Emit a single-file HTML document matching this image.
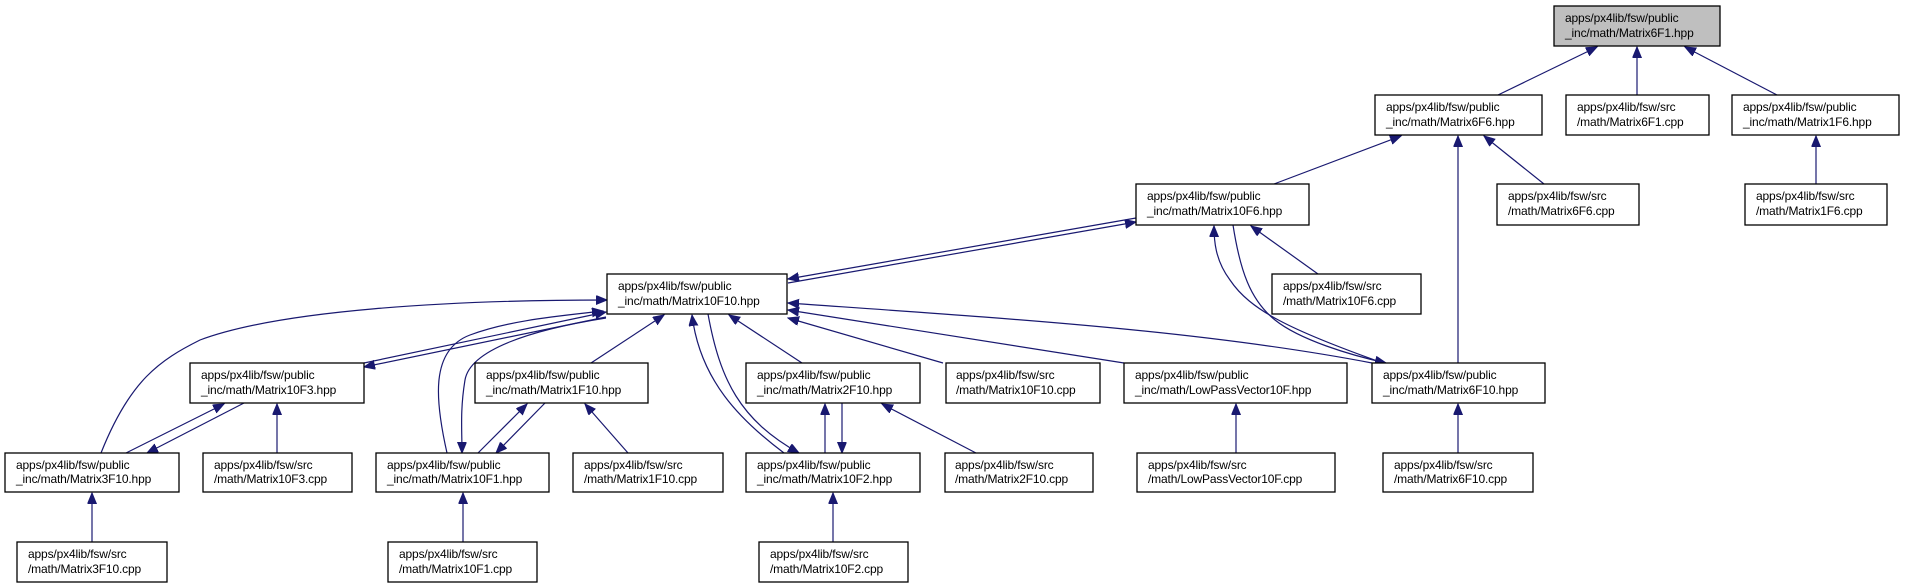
<!DOCTYPE html>
<html><head><meta charset="utf-8"><style>
html,body{margin:0;padding:0;background:#fff;}
svg{display:block;}
text{font-family:"Liberation Sans",sans-serif;font-size:12px;letter-spacing:-0.15px;fill:#000;}
.e{stroke:#191970;stroke-width:1.2;fill:none;marker-end:url(#a);}
.n{fill:#fff;stroke:#000;stroke-width:1.3;}
</style></head><body>
<svg width="1905" height="588" viewBox="0 0 1905 588" xmlns="http://www.w3.org/2000/svg">
<defs><marker id="a" markerUnits="userSpaceOnUse" markerWidth="12" markerHeight="10" refX="11" refY="4.5" orient="auto"><path d="M0,0 L11,4.5 L0,9 Z" fill="#191970" stroke="#191970"/></marker></defs>
<g>
<path class="e" d="M1498,95 L1597,47"/>
<path class="e" d="M1637,95 L1637,47"/>
<path class="e" d="M1777,95 L1685,47"/>
<path class="e" d="M1274,184 L1401,136"/>
<path class="e" d="M1544,184 L1484,136"/>
<path class="e" d="M1458,363 L1458,136"/>
<path class="e" d="M1816,184 L1816,136"/>
<path class="e" d="M1318,274 L1251,226"/>
<path class="e" d="M1383,363 C1290,330 1250,310 1230,280 C1215,260 1214,240 1214,226"/>
<path class="e" d="M1233,225 C1240,270 1250,300 1275,320 C1300,340 1350,355 1386,363"/>
<path class="e" d="M1136,218 L788,279"/>
<path class="e" d="M788,283 L1136,222"/>
<path class="e" d="M1372,363 C1200,330 1000,318 788,303"/>
<path class="e" d="M1124,363 L788,310"/>
<path class="e" d="M943,363 L788,318"/>
<path class="e" d="M802,363 L729,315"/>
<path class="e" d="M591,363 L664,315"/>
<path class="e" d="M784,453 C740,420 700,380 692,315"/>
<path class="e" d="M708,314 C720,380 740,420 799,453"/>
<path class="e" d="M364,363 L606,312"/>
<path class="e" d="M606,317 L364,367"/>
<path class="e" d="M447,453 C435,400 430,350 470,335 C510,320 560,316 603,311"/>
<path class="e" d="M606,318 C530,330 470,350 465,380 C460,410 462,430 462,453"/>
<path class="e" d="M101,453 C130,380 160,360 200,340 C280,310 450,300 607,300"/>
<path class="e" d="M126,453 L224,404"/>
<path class="e" d="M244,403 L147,453"/>
<path class="e" d="M277,453 L277,404"/>
<path class="e" d="M478,453 L527,404"/>
<path class="e" d="M545,403 L496,453"/>
<path class="e" d="M628,453 L585,404"/>
<path class="e" d="M825,453 L825,404"/>
<path class="e" d="M842,403 L842,453"/>
<path class="e" d="M976,453 L882,404"/>
<path class="e" d="M1236,453 L1236,404"/>
<path class="e" d="M1458,453 L1458,404"/>
<path class="e" d="M92,542 L92,493"/>
<path class="e" d="M463,542 L463,493"/>
<path class="e" d="M833,542 L833,493"/>
</g>
<g>
<rect x="1554" y="6" width="166" height="40" fill="#bfbfbf" stroke="#000" stroke-width="1.3"/>
<text x="1565" y="22">apps/px4lib/fsw/public</text><text x="1565" y="37">_inc/math/Matrix6F1.hpp</text>

<rect class="n" x="1375" y="95" width="167" height="40"/>
<text x="1386" y="111">apps/px4lib/fsw/public</text><text x="1386" y="126">_inc/math/Matrix6F6.hpp</text>
<rect class="n" x="1566" y="95" width="143" height="40"/>
<text x="1577" y="111">apps/px4lib/fsw/src</text><text x="1577" y="126">/math/Matrix6F1.cpp</text>
<rect class="n" x="1732" y="95" width="167" height="40"/>
<text x="1743" y="111">apps/px4lib/fsw/public</text><text x="1743" y="126">_inc/math/Matrix1F6.hpp</text>

<rect class="n" x="1136" y="184" width="173" height="41"/>
<text x="1147" y="200">apps/px4lib/fsw/public</text><text x="1147" y="215">_inc/math/Matrix10F6.hpp</text>
<rect class="n" x="1497" y="184" width="142" height="41"/>
<text x="1508" y="200">apps/px4lib/fsw/src</text><text x="1508" y="215">/math/Matrix6F6.cpp</text>
<rect class="n" x="1745" y="184" width="142" height="41"/>
<text x="1756" y="200">apps/px4lib/fsw/src</text><text x="1756" y="215">/math/Matrix1F6.cpp</text>

<rect class="n" x="607" y="274" width="180" height="40"/>
<text x="618" y="290">apps/px4lib/fsw/public</text><text x="618" y="305">_inc/math/Matrix10F10.hpp</text>
<rect class="n" x="1272" y="274" width="149" height="40"/>
<text x="1283" y="290">apps/px4lib/fsw/src</text><text x="1283" y="305">/math/Matrix10F6.cpp</text>

<rect class="n" x="190" y="363" width="174" height="40"/>
<text x="201" y="379">apps/px4lib/fsw/public</text><text x="201" y="394">_inc/math/Matrix10F3.hpp</text>
<rect class="n" x="475" y="363" width="173" height="40"/>
<text x="486" y="379">apps/px4lib/fsw/public</text><text x="486" y="394">_inc/math/Matrix1F10.hpp</text>
<rect class="n" x="746" y="363" width="174" height="40"/>
<text x="757" y="379">apps/px4lib/fsw/public</text><text x="757" y="394">_inc/math/Matrix2F10.hpp</text>
<rect class="n" x="946" y="363" width="154" height="40"/>
<text x="956" y="379">apps/px4lib/fsw/src</text><text x="956" y="394">/math/Matrix10F10.cpp</text>
<rect class="n" x="1124" y="363" width="223" height="40"/>
<text x="1135" y="379">apps/px4lib/fsw/public</text><text x="1135" y="394">_inc/math/LowPassVector10F.hpp</text>
<rect class="n" x="1372" y="363" width="173" height="40"/>
<text x="1383" y="379">apps/px4lib/fsw/public</text><text x="1383" y="394">_inc/math/Matrix6F10.hpp</text>

<rect class="n" x="5" y="453" width="174" height="39"/>
<text x="16" y="469">apps/px4lib/fsw/public</text><text x="16" y="483">_inc/math/Matrix3F10.hpp</text>
<rect class="n" x="203" y="453" width="149" height="39"/>
<text x="214" y="469">apps/px4lib/fsw/src</text><text x="214" y="483">/math/Matrix10F3.cpp</text>
<rect class="n" x="376" y="453" width="173" height="39"/>
<text x="387" y="469">apps/px4lib/fsw/public</text><text x="387" y="483">_inc/math/Matrix10F1.hpp</text>
<rect class="n" x="573" y="453" width="150" height="39"/>
<text x="584" y="469">apps/px4lib/fsw/src</text><text x="584" y="483">/math/Matrix1F10.cpp</text>
<rect class="n" x="746" y="453" width="174" height="39"/>
<text x="757" y="469">apps/px4lib/fsw/public</text><text x="757" y="483">_inc/math/Matrix10F2.hpp</text>
<rect class="n" x="945" y="453" width="148" height="39"/>
<text x="955" y="469">apps/px4lib/fsw/src</text><text x="955" y="483">/math/Matrix2F10.cpp</text>
<rect class="n" x="1137" y="453" width="198" height="39"/>
<text x="1148" y="469">apps/px4lib/fsw/src</text><text x="1148" y="483">/math/LowPassVector10F.cpp</text>
<rect class="n" x="1383" y="453" width="150" height="39"/>
<text x="1394" y="469">apps/px4lib/fsw/src</text><text x="1394" y="483">/math/Matrix6F10.cpp</text>

<rect class="n" x="17" y="542" width="150" height="40"/>
<text x="28" y="558">apps/px4lib/fsw/src</text><text x="28" y="573">/math/Matrix3F10.cpp</text>
<rect class="n" x="388" y="542" width="149" height="40"/>
<text x="399" y="558">apps/px4lib/fsw/src</text><text x="399" y="573">/math/Matrix10F1.cpp</text>
<rect class="n" x="759" y="542" width="149" height="40"/>
<text x="770" y="558">apps/px4lib/fsw/src</text><text x="770" y="573">/math/Matrix10F2.cpp</text>
</g>
</svg>
</body></html>
